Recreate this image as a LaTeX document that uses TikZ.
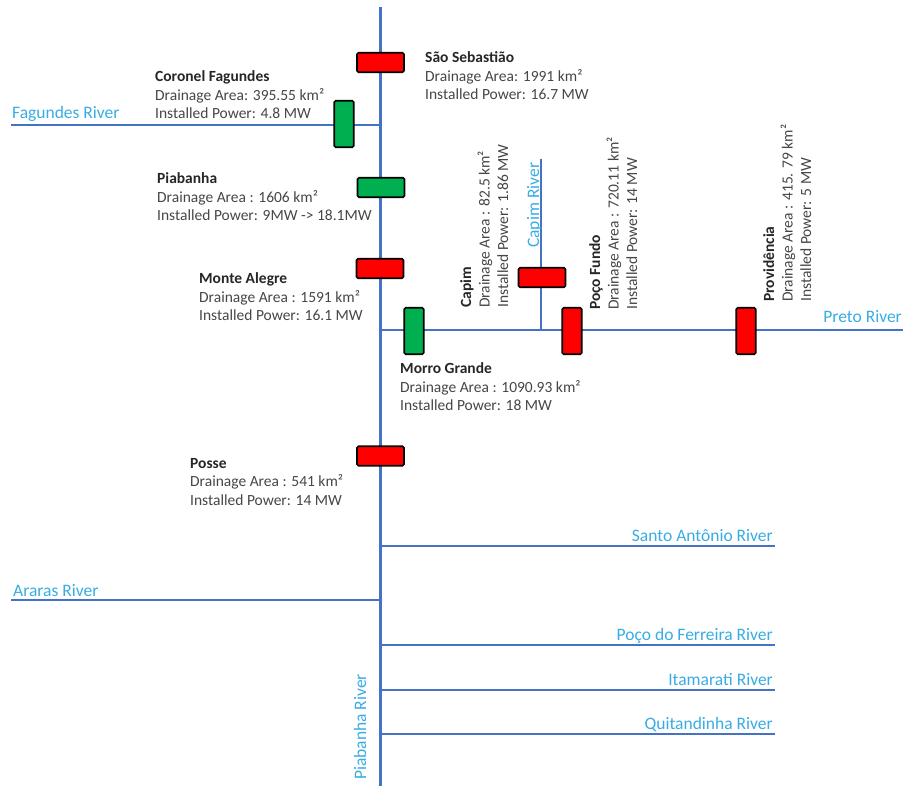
\documentclass[tikz,border=0pt]{standalone}
\usepackage{fontspec}
\setmainfont{Carlito}
\definecolor{riverline}{RGB}{68,114,196}
\definecolor{rivertext}{RGB}{56,172,228}
\definecolor{infotext}{RGB}{70,70,70}
\definecolor{plantred}{RGB}{255,0,0}
\definecolor{plantgreen}{RGB}{0,176,80}
\tikzset{
  river/.style={riverline, line width=2pt},
  mainriver/.style={riverline, line width=3pt},
  rivername/.style={text=rivertext, inner sep=0, font=\fontsize{17.5}{20}\selectfont},
  plant/.style={draw=black, line width=1.6pt, rounded corners=1.5pt, inner sep=0},
  hplant/.style={plant, minimum width=47pt, minimum height=19.5pt},
  vplant/.style={plant, minimum width=19.5pt, minimum height=46.5pt},
  info/.style={text=infotext, align=left, inner sep=0, font=\fontsize{15.5}{18.5}\selectfont},
}
\newcommand{\plantname}[1]{\textbf{\color{black!85}#1}}
\begin{document}
\begin{tikzpicture}[x=1pt,y=-1pt]
    \useasboundingbox (0,0) rectangle (903,786);
    % Piabanha, the main river
    \coordinate (src) at (380,7);
    \coordinate (mouth) at (380,786);
    \draw[mainriver] (src) -- (mouth);
    \node[rivername, rotate=90, anchor=base west] (piabanhariver) at (366,780) {Piabanha River};
    % tributaries on the left
    \coordinate (fagundesS) at (11,125);
    \coordinate (fagundesJ) at (380,125);
    \draw[river] (fagundesS) -- (fagundesJ);
    \node[rivername, anchor=base west] (fagundesriver) at (12,119) {Fagundes River};
    \coordinate (ararasS) at (11,600);
    \coordinate (ararasJ) at (380,600);
    \draw[river] (ararasS) -- (ararasJ);
    \node[rivername, anchor=base west] (ararasriver) at (13,596) {Araras River};
    % Preto and Capim
    \coordinate (pretoS) at (903,330);
    \coordinate (pretoJ) at (380,330);
    \draw[river] (pretoS) -- (pretoJ);
    \node[rivername, anchor=base east] (pretoriver) at (902,323) {Preto River};
    \coordinate (capimS) at (541,159);
    \coordinate (capimJ) at (541,330);
    \draw[river] (capimS) -- (capimJ);
    \node[rivername, rotate=90, anchor=base west] (capimriver) at (539,248) {Capim River};
    % tributaries on the right
    \foreach \y/\name [count=\i] in {546/Santo Antônio River, 645/Poço do Ferreira River,
                                     690/Itamarati River, 734/Quitandinha River}{
        \coordinate (tribS\i) at (775,\y);
        \coordinate (tribJ\i) at (380,\y);
        \draw[river] (tribS\i) -- (tribJ\i);
        \node[rivername, anchor=base east] (tribname\i) at (773,\y-5) {\name};
    }
    % plants
    \node[hplant, fill=plantred] (saosebastiao) at (380.5,62.5) {};
    \node[vplant, fill=plantgreen] (coronel) at (344,124) {};
    \node[hplant, fill=plantgreen] (piabanha) at (381,187.5) {};
    \node[hplant, fill=plantred] (montealegre) at (380,268.5) {};
    \node[vplant, fill=plantgreen] (morrogrande) at (414,331) {};
    \node[hplant, fill=plantred] (capim) at (542,277.5) {};
    \node[vplant, fill=plantred] (pocofundo) at (572,331) {};
    \node[vplant, fill=plantred] (providencia) at (746,331) {};
    \node[hplant, fill=plantred] (posse) at (380.5,456) {};
    % plant data (base = last line)
    \node[info, anchor=base west] (saosebastiaoinfo) at (425,100)
        {\plantname{São Sebastião}\\Drainage Area: 1991 km²\\Installed Power: 16.7 MW};
    \node[info, anchor=base west] (coronelinfo) at (155,119)
        {\plantname{Coronel Fagundes}\\Drainage Area: 395.55 km²\\Installed Power: 4.8 MW};
    \node[info, anchor=base west] (piabanhainfo) at (157,221)
        {\plantname{Piabanha}\\Drainage Area : 1606 km²\\Installed Power: 9MW -> 18.1MW};
    \node[info, anchor=base west] (montealegreinfo) at (199,321)
        {\plantname{Monte Alegre}\\Drainage Area : 1591 km²\\Installed Power: 16.1 MW};
    \node[info, anchor=base west] (morrograndeinfo) at (400,411)
        {\plantname{Morro Grande}\\Drainage Area : 1090.93 km²\\Installed Power: 18 MW};
    \node[info, anchor=base west] (posseinfo) at (190,505)
        {\plantname{Posse}\\Drainage Area : 541 km²\\Installed Power: 14 MW};
    \node[info, rotate=90, anchor=base west] (capiminfo) at (508,308)
        {\plantname{Capim}\\Drainage Area : 82.5 km²\\Installed Power: 1.86 MW};
    \node[info, rotate=90, anchor=base west] (pocofundoinfo) at (637,310)
        {\plantname{Poço Fundo}\\Drainage Area : 720.11 km²\\Installed Power: 14 MW};
    \node[info, rotate=90, anchor=base west] (providenciainfo) at (811,302)
        {\plantname{Providência}\\Drainage Area : 415. 79 km²\\Installed Power: 5 MW};
\end{tikzpicture}
\end{document}
